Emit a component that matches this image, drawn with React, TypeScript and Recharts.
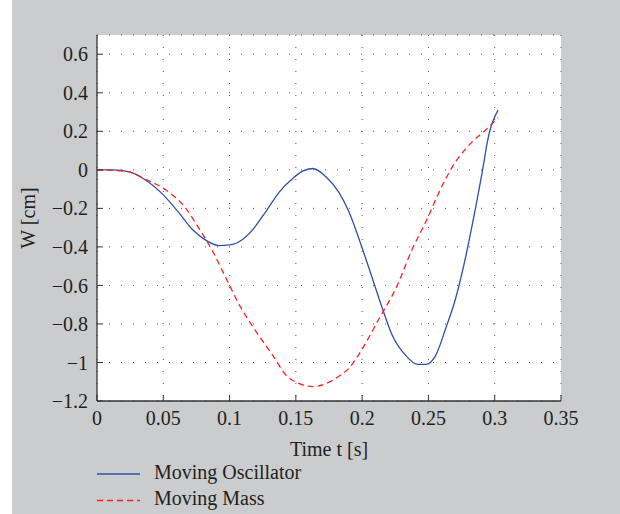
import React from 'react';
import { LineChart, Line, XAxis, YAxis, CartesianGrid } from 'recharts';

const oscT = [0, 0.012, 0.025, 0.036, 0.05, 0.062, 0.072, 0.082, 0.092, 0.1, 0.11, 0.1175, 0.1275, 0.1376, 0.1476, 0.155, 0.1627, 0.1727, 0.1827, 0.19, 0.2002, 0.2078, 0.2153, 0.2228, 0.2328, 0.242, 0.248, 0.2555, 0.263, 0.2705, 0.2767, 0.283, 0.2906, 0.2955, 0.3025];
const oscW = [0, 0, -0.012, -0.05, -0.13, -0.225, -0.31, -0.365, -0.393, -0.39, -0.36, -0.31, -0.215, -0.114, -0.045, -0.007, 0.007, -0.036, -0.12, -0.218, -0.41, -0.565, -0.72, -0.86, -0.963, -1.01, -1.01, -0.963, -0.824, -0.668, -0.495, -0.287, -0.01, 0.18, 0.31];

const massT = [0, 0.022, 0.037, 0.052, 0.067, 0.077, 0.0875, 0.0975, 0.1075, 0.12, 0.1326, 0.1426, 0.1527, 0.1627, 0.1727, 0.1827, 0.19, 0.2002, 0.2128, 0.2254, 0.2379, 0.248, 0.2605, 0.2705, 0.283, 0.293, 0.3025];
const massW = [0, -0.008, -0.05, -0.105, -0.2, -0.305, -0.426, -0.565, -0.703, -0.84, -0.963, -1.066, -1.11, -1.125, -1.11, -1.07, -1.03, -0.928, -0.772, -0.616, -0.41, -0.27, -0.08, 0.042, 0.145, 0.206, 0.27];

const xTicks = [0, 0.05, 0.1, 0.15, 0.2, 0.25, 0.3, 0.35];
const xTickLabels = ['0', '0.05', '0.1', '0.15', '0.2', '0.25', '0.3', '0.35'];
const yTicks = [-1.2, -1, -0.8, -0.6, -0.4, -0.2, 0, 0.2, 0.4, 0.6];
const yTickLabels = ['\u22121.2', '\u22121', '\u22120.8', '\u22120.6', '\u22120.4', '\u22120.2', '0', '0.2', '0.4', '0.6'];

const seriesNames = ['Moving Oscillator', 'Moving Mass'];
const oscData = oscT.map((t, i) => ({ t, w: oscW[i] }));
const massData = massT.map((t, i) => ({ t, w: massW[i] }));

const FONT = '"Liberation Serif", "DejaVu Serif", serif';
const FS = 20;
const TEXT = '#231f20';
const BLUE = '#3050a8';
const RED = '#ff2020';
const FRAME = '#333333';

const fmtX = (v: number) => { const i = xTicks.findIndex((t) => Math.abs(t - v) < 1e-9); return i >= 0 ? xTickLabels[i] : String(v); };
const fmtY = (v: number) => { const i = yTicks.findIndex((t) => Math.abs(t - v) < 1e-9); return i >= 0 ? yTickLabels[i] : String(v); };

const XLabel = (props: any) => {
  const vb = props.viewBox || {};
  return (
    <text x={vb.x + vb.width / 2} y={vb.y + 55} textAnchor="middle" fontFamily={FONT} fontSize={FS} fill={TEXT}>
      Time t [s]
    </text>
  );
};

const YLabel = (props: any) => {
  const vb = props.viewBox || {};
  const x = vb.x + 23;
  const y = vb.y + vb.height / 2;
  return (
    <text x={x} y={y} transform={`rotate(-90 ${x} ${y})`} textAnchor="middle" fontFamily={FONT} fontSize={FS} fill={TEXT}>
      W [cm]
    </text>
  );
};

const tickStyle = { fontFamily: FONT, fontSize: FS, fill: TEXT };

export default function App() {
  return (
    <div style={{ position: 'absolute', left: 0, top: 0, width: 620, height: 514, background: '#ffffff' }}>
      <div style={{ position: 'absolute', left: 12, top: 0, width: 608, height: 514, background: '#cbcccd' }} />
      <div style={{ position: 'absolute', left: 0, top: 0 }}>
        <LineChart width={620} height={514} margin={{ top: 35, right: 59, bottom: 83, left: 12 }}>
          <CartesianGrid xAxisId="b" yAxisId="l" fill="#ffffff" stroke="#555555" strokeDasharray="1 11" strokeWidth={1} />
          <XAxis
            xAxisId="b"
            dataKey="t"
            type="number"
            domain={[0, 0.35]}
            ticks={xTicks}
            tickFormatter={fmtX}
            height={30}
            stroke={FRAME}
            tickSize={-6}
            tickMargin={16}
            tick={tickStyle}
            tickLine={{ stroke: FRAME }}
            axisLine={{ stroke: FRAME, strokeWidth: 1.3 }}
            allowDataOverflow
            label={<XLabel />}
          />
          <XAxis
            xAxisId="t"
            orientation="top"
            dataKey="t"
            type="number"
            domain={[0, 0.35]}
            ticks={xTicks}
            height={0}
            tick={false}
            tickSize={-6}
            tickLine={{ stroke: FRAME }}
            axisLine={{ stroke: FRAME, strokeWidth: 1.3 }}
            allowDataOverflow
          />
          <YAxis
            yAxisId="l"
            type="number"
            domain={[-1.2, 0.7]}
            ticks={yTicks}
            tickFormatter={fmtY}
            width={85}
            tickSize={-6}
            tickMargin={15}
            tick={tickStyle}
            tickLine={{ stroke: FRAME }}
            axisLine={{ stroke: FRAME, strokeWidth: 1.3 }}
            allowDataOverflow
            label={<YLabel />}
          />
          <YAxis
            yAxisId="r"
            orientation="right"
            type="number"
            domain={[-1.2, 0.7]}
            ticks={yTicks}
            width={0}
            tick={false}
            tickSize={-6}
            tickLine={{ stroke: FRAME }}
            axisLine={{ stroke: FRAME, strokeWidth: 1.3 }}
            allowDataOverflow
          />
          <Line
            xAxisId="b"
            yAxisId="l"
            data={oscData}
            dataKey="w"
            name={seriesNames[0]}
            type="monotone"
            stroke={BLUE}
            strokeWidth={1.3}
            dot={false}
            isAnimationActive={false}
          />
          <Line
            xAxisId="b"
            yAxisId="l"
            data={massData}
            dataKey="w"
            name={seriesNames[1]}
            type="monotone"
            stroke={RED}
            strokeWidth={1.3}
            strokeDasharray="6 4"
            dot={false}
            isAnimationActive={false}
          />
        </LineChart>
      </div>
      <svg style={{ position: 'absolute', left: 97, top: 460 }} width={300} height={54}>
        <line x1={0} y1={14} x2={43} y2={14} stroke={BLUE} strokeWidth={1.3} />
        <text x={57} y={19} fontFamily={FONT} fontSize={FS} fill={TEXT}>{seriesNames[0]}</text>
        <line x1={0} y1={40.5} x2={43} y2={40.5} stroke={RED} strokeWidth={1.3} strokeDasharray="6 4" />
        <text x={57} y={45} fontFamily={FONT} fontSize={FS} fill={TEXT}>{seriesNames[1]}</text>
      </svg>
    </div>
  );
}
